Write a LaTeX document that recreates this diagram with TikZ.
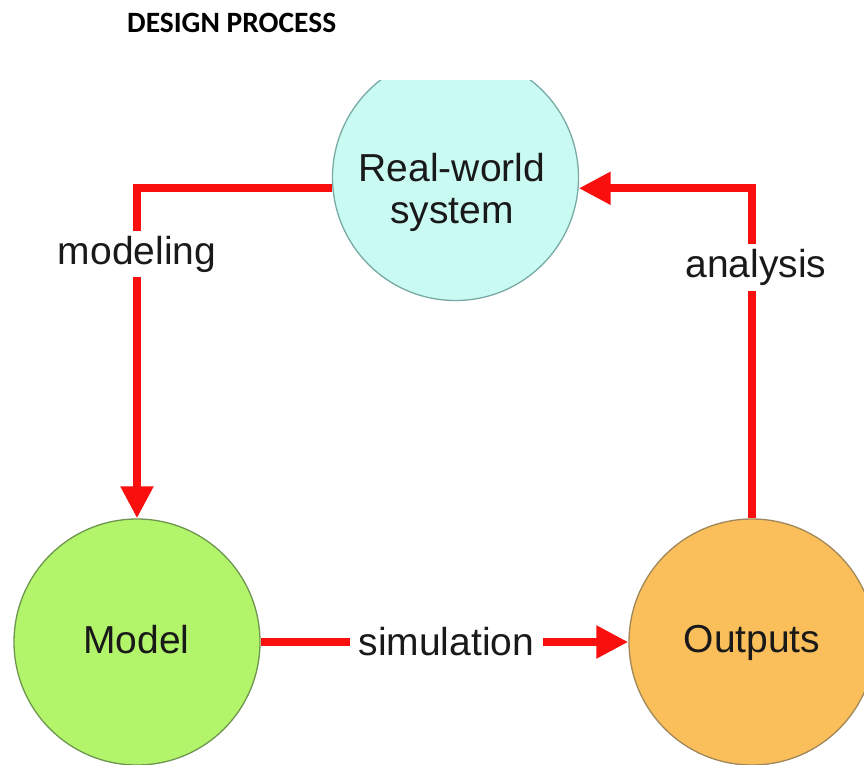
\documentclass[tikz,border=0pt]{standalone}
\usepackage{fontspec}
\setmainfont{Liberation Sans}
\newfontfamily\titlefont{Carlito}
\usetikzlibrary{arrows.meta}
\definecolor{cyanfill}{RGB}{202,251,243}
\definecolor{cyanline}{RGB}{120,170,165}
\definecolor{greenfill}{RGB}{178,245,106}
\definecolor{greenline}{RGB}{110,150,80}
\definecolor{orangefill}{RGB}{250,191,90}
\definecolor{orangeline}{RGB}{160,135,90}
\definecolor{arrowred}{RGB}{250,15,15}
\tikzset{
  bubble/.style={circle, minimum size=246pt, inner sep=0pt, line width=1.3pt},
  conn/.style={draw=arrowred, line width=8pt},
  tipconn/.style={conn, -{Triangle[length=32pt,width=31pt]}},
  lbl/.style={fill=white, inner xsep=7pt, inner ysep=5pt, font=\fontsize{39}{42}\selectfont, text=black!90},
  ctext/.style={align=center, font=\fontsize{39}{42}\selectfont, text=black!90, inner sep=0pt}
}
\begin{document}
\begin{tikzpicture}[x=1pt, y=-1pt]
\useasboundingbox[fill=white] (0,0) rectangle (864,764);
% title
\node[anchor=base west, inner sep=0pt, font=\titlefont\bfseries\fontsize{29.5}{32}\selectfont] (title) at (127,32) {DESIGN PROCESS};
% circles
\begin{scope}
  \clip (0,80) rectangle (864,764);
  \node[bubble, fill=cyanfill, draw=cyanline] (rw) at (455.5,177.5) {};
\end{scope}
\node[bubble, fill=greenfill, draw=greenline] (model) at (137,642) {};
\node[bubble, fill=orangefill, draw=orangeline] (outputs) at (752,642) {};
% circle texts
\node[ctext, anchor=base] (rwtext) at (452,223) {Real-world\\system};
\node[ctext, anchor=base] (modeltext) at (136.5,653) {Model};
\node[ctext, anchor=base] (outputstext) at (752,652) {Outputs};
% connectors
\draw[tipconn] (rw.185.86) -| node[lbl, pos=0.60] (lmodeling) {modeling} (model.north);
\draw[tipconn] (model.east) -- node[lbl, pos=0.505, inner xsep=9pt] (lsim) {simulation} (outputs.west);
\draw[tipconn] (outputs.north) |- node[lbl, pos=0.38, xshift=4pt] (lanalysis) {analysis} (rw.-5.86);
\end{tikzpicture}
\end{document}
